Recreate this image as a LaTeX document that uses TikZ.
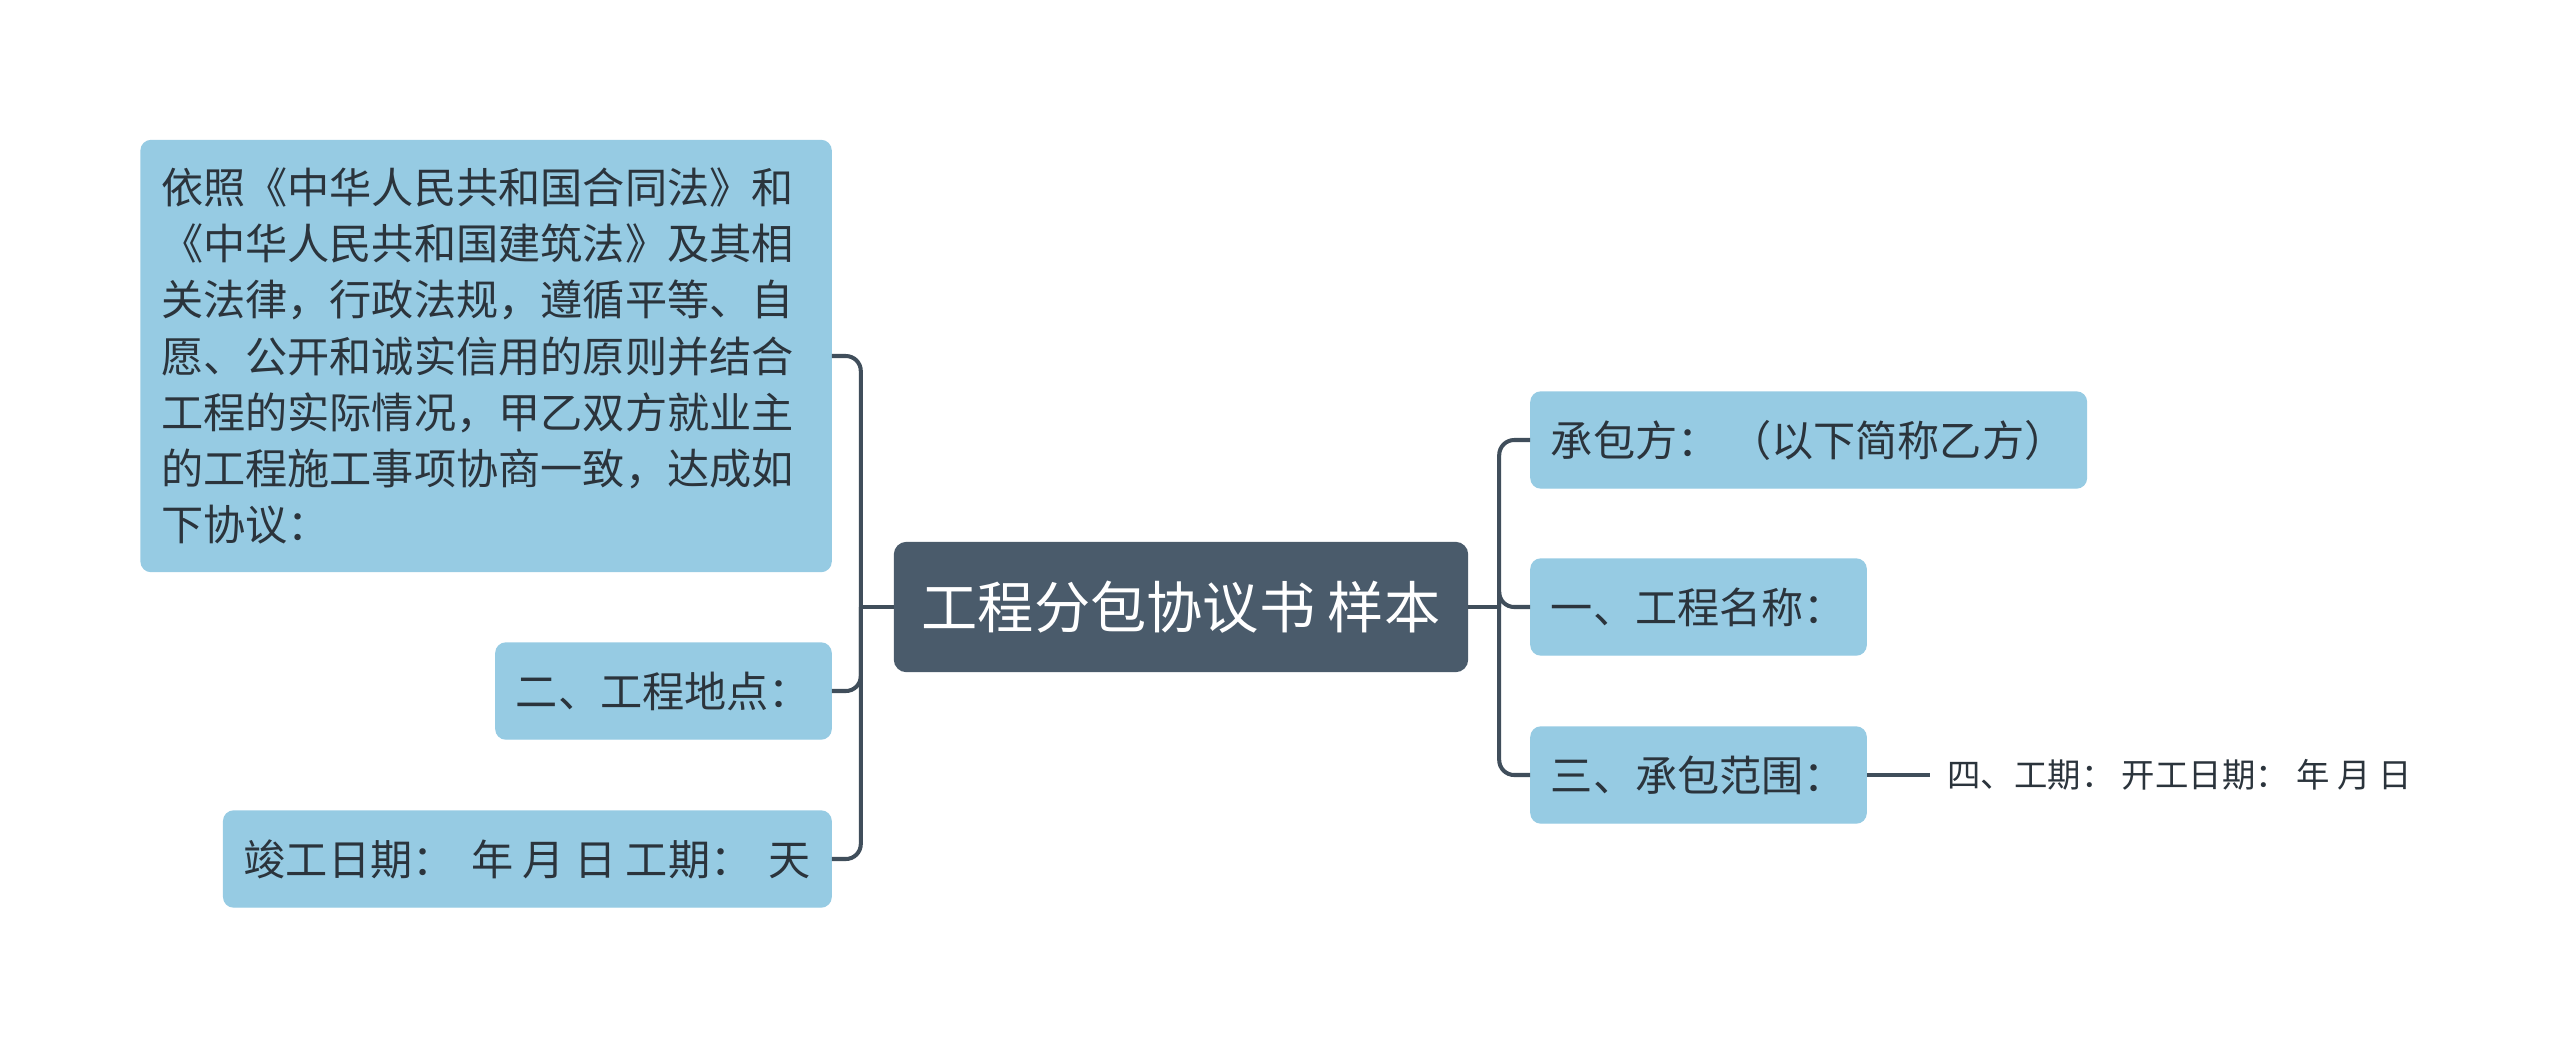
\documentclass[tikz,border=0pt]{standalone}
\usepackage{fontspec}
\setmainfont{Noto Sans CJK SC}
\usepackage{tikz}
\usetikzlibrary{positioning}
\definecolor{celeste}{RGB}{150,203,227}
\definecolor{pizarra}{RGB}{74,91,107}
\definecolor{linea}{RGB}{64,78,91}
\definecolor{tinta}{RGB}{43,52,60}

\begin{document}
\begin{tikzpicture}[
central/.style={fill=pizarra,draw=pizarra,rounded corners=1.2mm,minimum width=57.3mm,minimum height=12.9mm,text=white,font=\fontsize{16}{19}\selectfont},
hoja/.style={fill=celeste,draw=celeste,rounded corners=1mm,minimum height=9.6mm,inner xsep=2mm,text=tinta,font=\fontsize{12}{16}\selectfont},
texto/.style={text=tinta,inner xsep=1.7mm,font=\fontsize{9.5}{11}\selectfont},
rama/.style={draw=linea,line width=1.15pt,rounded corners=1.5mm}
]
\useasboundingbox (0,0) rectangle (256mm,-104.7mm);
\node[central] (tema) at (118.1mm,-60.7mm) {工程分包协议书 样本};

% lado izquierdo
\node[hoja,text width=65mm,align=left,minimum height=43.1mm,left=6.2mm of tema,yshift=25.1mm] (principio) {依照《中华人民共和国合同法》和\\《中华人民共和国建筑法》及其相\\关法律，行政法规，遵循平等、自\\愿、公开和诚实信用的原则并结合\\工程的实际情况，甲乙双方就业主\\的工程施工事项协商一致，达成如\\下协议：};
\node[hoja,left=6.2mm of tema,yshift=-8.4mm] (lugar) {二、工程地点：};
\node[hoja,left=6.2mm of tema,yshift=-25.2mm] (fechas) {竣工日期：\, 年 月 日 工期：\, 天};

% lado derecho
\node[hoja,right=6.2mm of tema,yshift=16.7mm] (contratista) {承包方： （以下简称乙方）};
\node[hoja,right=6.2mm of tema] (nombre) {一、工程名称：};
\node[hoja,right=6.2mm of tema,yshift=-16.8mm] (alcance) {三、承包范围：};
\node[texto,right=6.3mm of alcance] (plazo) {四、工期： 开工日期： 年 月 日};

\coordinate[left=3.3mm of tema.west] (izq);
\coordinate[right=3.1mm of tema.east] (der);

\draw[rama] (tema.west) -- (izq);
\draw[rama] (izq) |- (principio.east);
\draw[rama] (izq) |- (lugar.east);
\draw[rama] (izq) |- (fechas.east);
\draw[rama] (tema.east) -- (der);
\draw[rama] (der) |- (contratista.west);
\draw[rama] (der) |- (nombre.west);
\draw[rama] (der) |- (alcance.west);
\draw[rama] (alcance) -- (plazo);
\end{tikzpicture}
\end{document}
